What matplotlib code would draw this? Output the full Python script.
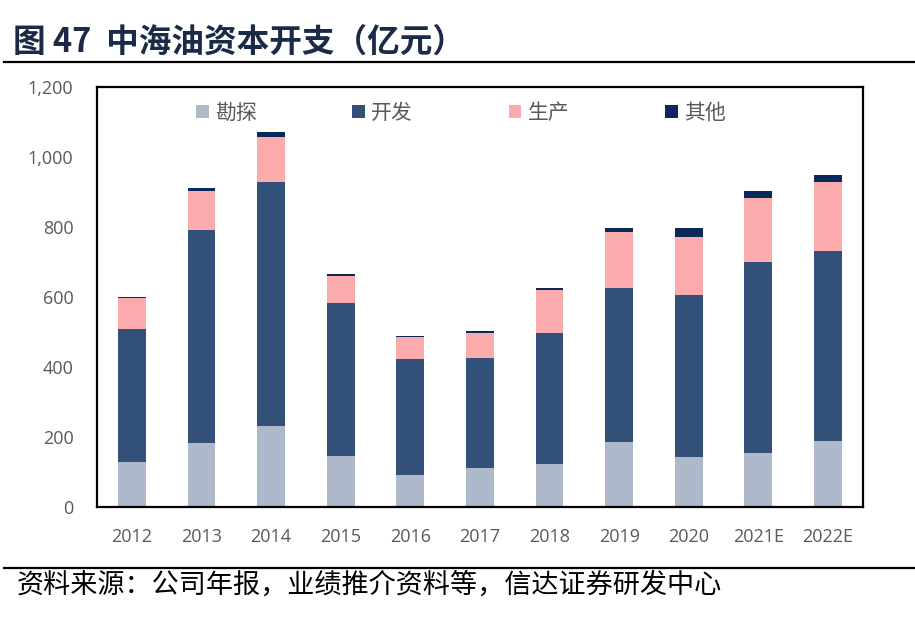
import matplotlib.pyplot as plt
import numpy as np
from matplotlib.lines import Line2D
from matplotlib.ticker import FuncFormatter

# 中海油资本开支（亿元）
years = ["2012", "2013", "2014", "2015", "2016", "2017", "2018",
         "2019", "2020", "2021E", "2022E"]
exploration = [130, 183, 232, 147, 91, 111, 124, 185, 143, 154, 188]
development = [379, 610, 698, 437, 333, 316, 373, 442, 464, 547, 543]
production = [87, 109, 128, 76, 61, 69, 123, 160, 166, 181, 199]
other = [3, 9, 13, 5, 4, 6, 7, 9, 23, 20, 19]

series_names = ["勘探", "开发", "生产", "其他"]
series_colors = ["#adb9ca", "#335079", "#fbabab", "#0b2a5c"]

plt.rcParams["font.family"] = ["Noto Sans CJK SC", "DejaVu Sans"]

fig = plt.figure(figsize=(9.15, 6.18), dpi=100)
ax = fig.add_axes([0.106, 0.1796, 0.837, 0.6794])

x = np.arange(len(years))
bottom = np.zeros(len(years))
for name, values, color in zip(
    series_names, [exploration, development, production, other], series_colors
):
    ax.bar(x, values, width=0.4, bottom=bottom, color=color, label=name)
    bottom += np.array(values)

ax.set_xlim(-0.5, len(years) - 0.5)
ax.set_ylim(0, 1200)
ax.set_yticks(range(0, 1201, 200))
ax.yaxis.set_major_formatter(FuncFormatter(lambda v, _: f"{int(v):,}"))
ax.set_xticks(x)
ax.set_xticklabels(years)

for label in ax.get_xticklabels() + ax.get_yticklabels():
    label.set_family(["Open Sans", "DejaVu Sans"])
    label.set_fontsize(13)
    label.set_color("#595959")
ax.tick_params(axis="y", length=0, pad=17)
ax.tick_params(axis="x", length=0, pad=15)

for spine in ax.spines.values():
    spine.set_linewidth(1.6)
    spine.set_color("black")

ax.legend(
    loc="center",
    bbox_to_anchor=(0.475, 0.938),
    ncol=4,
    frameon=False,
    fontsize=15,
    handlelength=0.6,
    handleheight=0.6,
    handletextpad=0.3,
    columnspacing=4.6,
    labelcolor="#595959",
)

# header and footer
fig.text(13 / 915, 1 - 42 / 618, "图 47  中海油资本开支（亿元）",
         fontsize=23.5, fontweight="bold", color="#1b2a47", va="center", ha="left")
fig.add_artist(Line2D([4 / 915, 1], [1 - 62 / 618] * 2, color="black", linewidth=1.6))
fig.add_artist(Line2D([4 / 915, 1], [1 - 568 / 618] * 2, color="black", linewidth=1.6))
fig.text(17 / 915, 1 - 585 / 618, "资料来源：公司年报，业绩推介资料等，信达证券研发中心",
         fontsize=19.5, color="black", va="center", ha="left", style="italic")

fig.savefig("out.png", dpi=100)
